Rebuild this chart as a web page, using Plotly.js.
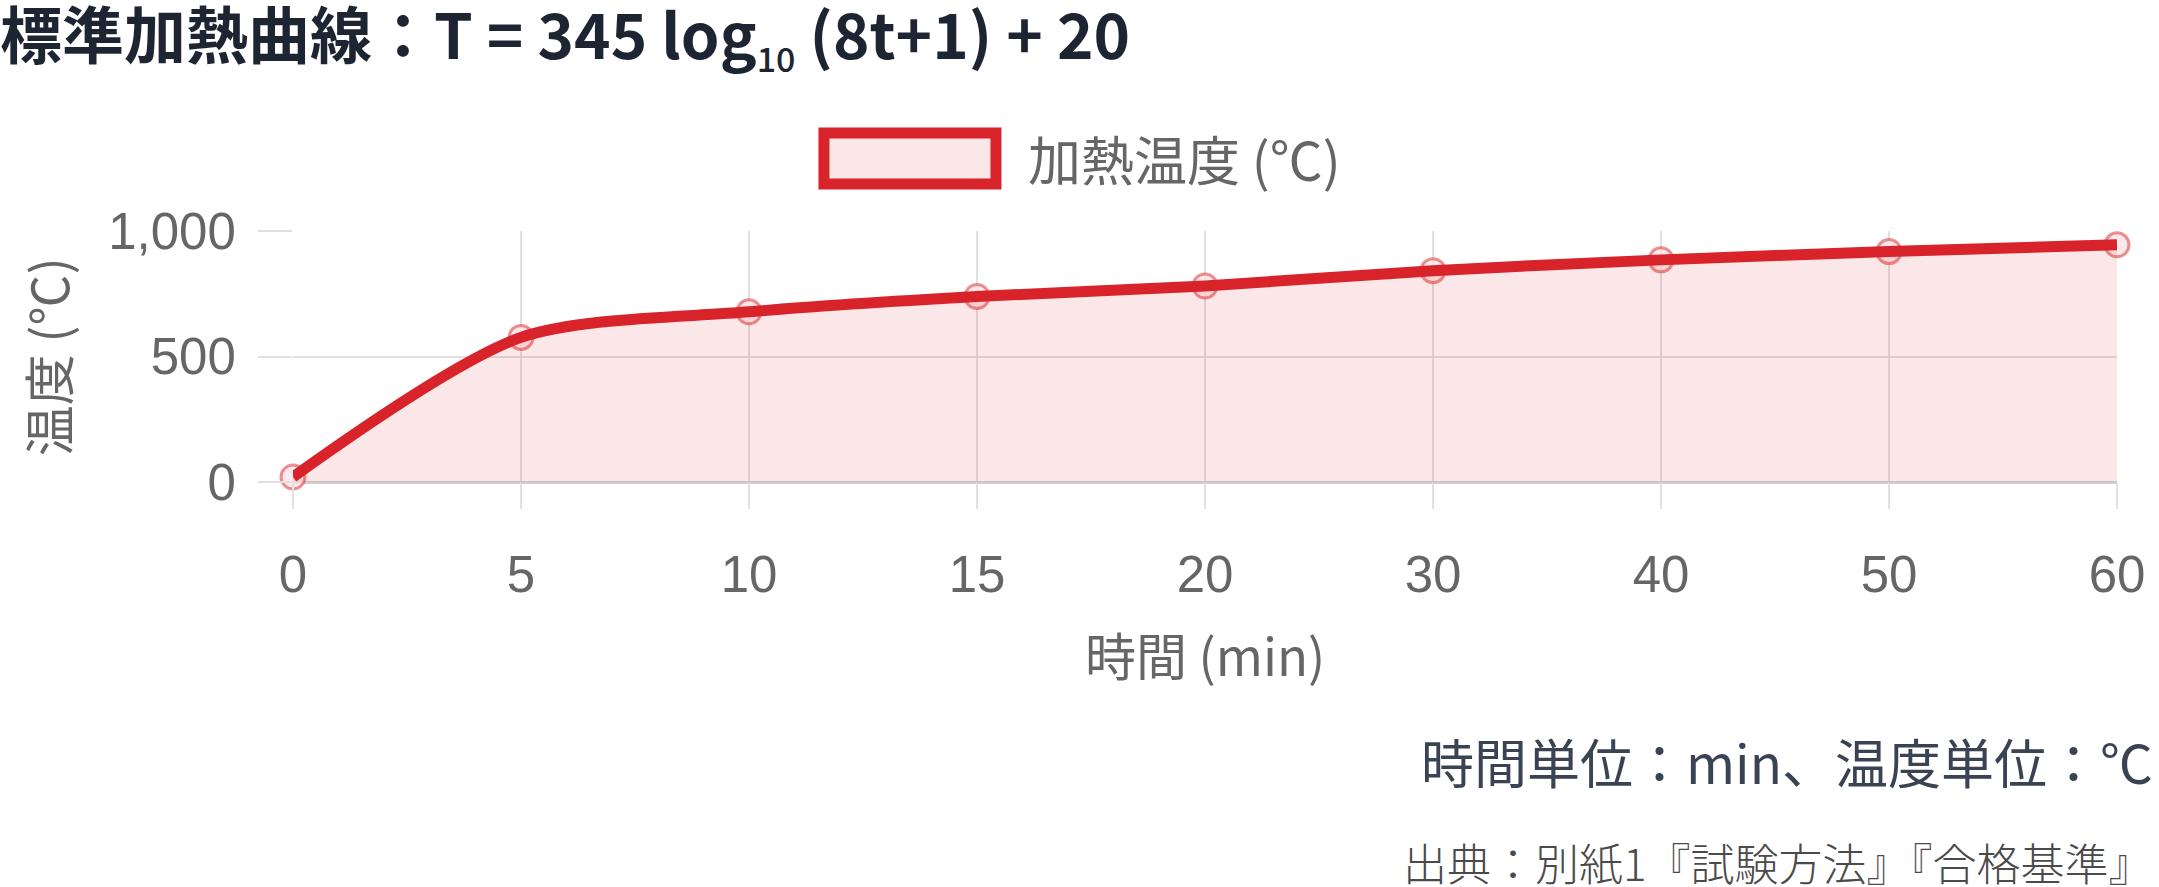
<!DOCTYPE html>
<html>
<head>
<meta charset="utf-8">
<script src="https://cdn.plot.ly/plotly-3.0.1.min.js"></script>
<style>
  html, body { margin: 0; padding: 0; background: #fff; }
  #chart { width: 2159px; height: 887px; }
</style>
</head>
<body>
<div id="chart"></div>
<script>
// time (min) on a category axis, temperature in deg C
const times = ['0', '5', '10', '15', '20', '30', '40', '50', '60'];
const temps = [20, 576, 678, 739, 781, 842, 885, 918, 945];
const yTicks = [0, 500, 1000];

const titleText = '標準加熱曲線：T = 345 log<sub><span style="font-size:34px;font-weight:500">10</span></sub> (8t+1) + 20';
const seriesName = '加熱温度 (℃)';
const xTitle = '時間 (min)';
const yTitle = '温度 (℃)';
const unitNote = '時間単位：min、温度単位：℃';
const sourceNote = '出典：別紙1『試験方法』『合格基準』';

const red = '#d9232b';
const pink = 'rgba(220,38,38,0.11)';
const grid = '#e0e0e0';
const tickFont = { family: 'Liberation Sans, Arial, sans-serif', size: 51, color: '#666' };
const cjk = 'Noto Sans CJK JP, sans-serif';

// points go under the line, like the original canvas chart
const pointTrace = {
    x: times,
    y: temps,
    type: 'scatter',
    mode: 'markers',
    marker: {
        symbol: 'circle',
        size: 24,
        color: 'rgba(251,228,230,0.8)',
        line: { color: 'rgba(220,38,38,0.5)', width: 3 }
    },
    cliponaxis: false,
    hoverinfo: 'skip'
};

const lineTrace = {
    x: times,
    y: temps,
    type: 'scatter',
    mode: 'lines',
    name: seriesName,
    fill: 'tozeroy',
    fillcolor: pink,
    line: { color: red, width: 11, shape: 'spline', smoothing: 0.8 },
    cliponaxis: false,
    hoverinfo: 'skip'
};

const layout = {
    width: 2159,
    height: 887,
    margin: { l: 293, r: 42, t: 231, b: 405 },
    paper_bgcolor: '#fff',
    plot_bgcolor: '#fff',
    showlegend: false,
    title: {
        text: titleText,
        xref: 'container',
        x: 0,
        xanchor: 'left',
        yref: 'container',
        y: 0.958,
        yanchor: 'middle',
        font: { family: cjk, size: 62, color: '#1e2532', weight: 'bold' }
    },
    xaxis: {
        type: 'category',
        range: [0, times.length - 1],
        showgrid: true,
        gridcolor: grid,
        gridwidth: 2,
        zeroline: false,
        showline: false,
        ticks: 'outside',
        ticklen: 26,
        tickwidth: 2,
        tickcolor: grid,
        ticklabelstandoff: 22,
        tickfont: tickFont
    },
    yaxis: {
        range: [0, 1000],
        tickvals: yTicks,
        tickformat: ',d',
        showgrid: true,
        gridcolor: grid,
        gridwidth: 2,
        zeroline: true,
        zerolinecolor: '#cfcfcf',
        zerolinewidth: 3,
        showline: false,
        ticks: 'outside',
        ticklen: 34,
        tickwidth: 2,
        tickcolor: grid,
        ticklabelstandoff: 12,
        tickfont: tickFont
    },
    shapes: [
        // legend swatch, Chart.js style box
        {
            type: 'rect', xref: 'paper', yref: 'paper',
            x0: 0.2911, x1: 0.3854, y0: 1.187, y1: 1.390,
            fillcolor: '#fbe6e8',
            line: { color: red, width: 11 }
        }
    ],
    annotations: [
        {
            text: seriesName, xref: 'paper', yref: 'paper',
            x: 0.4019, y: 1.291, xanchor: 'left', yanchor: 'middle',
            showarrow: false,
            font: { family: cjk, size: 53, color: '#666' }
        },
        {
            text: xTitle, xref: 'paper', yref: 'paper',
            x: 0.5, y: -0.685, xanchor: 'center', yanchor: 'middle',
            showarrow: false,
            font: { family: cjk, size: 51, color: '#666' }
        },
        {
            text: yTitle, xref: 'paper', yref: 'paper',
            x: -0.135, y: 0.5, xanchor: 'center', yanchor: 'middle',
            textangle: -90,
            showarrow: false,
            font: { family: cjk, size: 51, color: '#666' }
        },
        {
            text: unitNote, xref: 'paper', yref: 'paper',
            x: 1.0208, y: -1.112, xanchor: 'right', yanchor: 'middle',
            showarrow: false,
            font: { family: cjk, size: 53, color: '#3a4353' }
        },
        {
            text: sourceNote, xref: 'paper', yref: 'paper',
            x: 1.0208, y: -1.515, xanchor: 'right', yanchor: 'middle',
            showarrow: false,
            font: { family: cjk, size: 44, color: '#4a4a4a', weight: 300 }
        }
    ]
};

Plotly.newPlot('chart', [pointTrace, lineTrace], layout, { displayModeBar: false, staticPlot: true });
</script>
</body>
</html>
